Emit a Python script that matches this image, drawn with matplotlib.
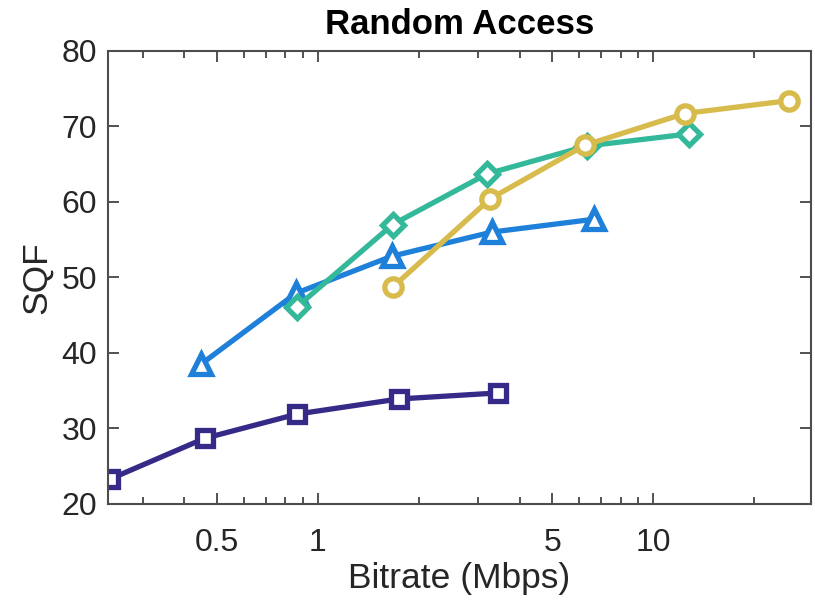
import numpy as np
import matplotlib
matplotlib.use("Agg")
import matplotlib.pyplot as plt
from matplotlib.ticker import FixedLocator, NullFormatter, FixedFormatter

plt.rcParams["font.family"] = ["Liberation Sans", "DejaVu Sans"]

# bitrate (Mbps) and SQF for the four codecs
sq_x = [0.240, 0.46, 0.866, 1.74, 3.44]
sq_y = [23.3, 28.7, 31.9, 33.9, 34.7]
tri_x = [0.448, 0.86, 1.66, 3.30, 6.65]
tri_y = [38.5, 47.9, 52.8, 56.0, 57.7]
dia_x = [0.866, 1.67, 3.19, 6.34, 12.8]
dia_y = [46.1, 57.0, 63.7, 67.4, 69.0]
cir_x = [1.67, 3.26, 6.25, 12.4, 25.3]
cir_y = [48.7, 60.4, 67.5, 71.7, 73.4]

major_ticks = [0.5, 1, 5, 10]
major_labels = ["0.5", "1", "5", "10"]
y_ticks = [20, 30, 40, 50, 60, 70, 80]

fig = plt.figure(figsize=(8.15, 6.05), dpi=100)
ax = fig.add_axes([0.1325, 0.167, 0.8625, 0.749])

style = dict(lw=3.8, markeredgewidth=3.8, markerfacecolor="white")
ax.plot(sq_x, sq_y, marker="s", color="#352a87", markersize=11, **style)
ax.plot(tri_x, tri_y, marker="^", color="#1e80d8", markersize=14, **style)
ax.plot(dia_x, dia_y, marker="D", color="#33b89a", markersize=11, **style)
ax.plot(cir_x, cir_y, marker="o", color="#d8bb4d", markersize=12.5, **style)

ax.set_xscale("log")
ax.set_xlim(0.2366, 29.5)
ax.set_ylim(20, 80)

minors = [m * d for d in (0.1, 1, 10) for m in range(2, 10)]
minors = [v for v in minors if 0.2366 < v < 29.5 and v not in major_ticks]
ax.xaxis.set_major_locator(FixedLocator(major_ticks))
ax.xaxis.set_major_formatter(FixedFormatter(major_labels))
ax.xaxis.set_minor_locator(FixedLocator(minors))
ax.xaxis.set_minor_formatter(NullFormatter())
ax.set_yticks(y_ticks)

ax.tick_params(which="both", direction="in", top=True, right=True,
               colors="#444444", labelcolor="#262626", labelsize=23, pad=8)
ax.tick_params(axis="x", which="major", pad=17)
ax.tick_params(which="major", length=8, width=1.3)
ax.tick_params(which="minor", length=5, width=1.3)
for s in ax.spines.values():
    s.set_color("#4d4d4d")
    s.set_linewidth(1.5)

ax.set_xlabel("Bitrate (Mbps)", fontsize=25.5, color="#262626", labelpad=3)
ax.set_ylabel("SQF", fontsize=25.5, color="#262626", labelpad=6)
ax.set_title("Random Access", fontsize=25, fontweight="bold", pad=12)

fig.savefig("out.png", dpi=100)
